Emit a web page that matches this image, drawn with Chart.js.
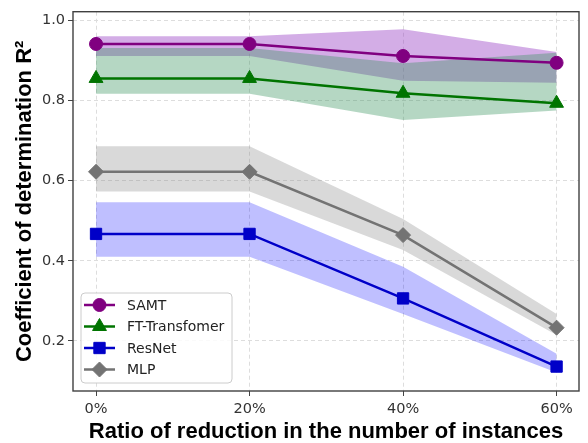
<!DOCTYPE html>
<html><head><meta charset="utf-8">
<script src="https://cdn.jsdelivr.net/npm/chart.js@4"></script>
<style>html,body{margin:0;padding:0;background:#fff}#wrap{width:588px;height:443px}</style>
</head><body><div id="wrap"><canvas id="c" width="588" height="443"></canvas></div>
<script>
const categories = ['0%', '20%', '40%', '60%'];
const yTickValues = [0.2, 0.4, 0.6, 0.8, 1.0];
const seriesNames = ['SAMT', 'FT-Transfomer', 'ResNet', 'MLP'];

const samt      = [0.941, 0.941, 0.911, 0.894];
const samtUpper = [0.960, 0.960, 0.978, 0.921];
const samtLower = [0.911, 0.911, 0.849, 0.844];

const ft        = [0.855, 0.855, 0.818, 0.793];
const ftUpper   = [0.931, 0.931, 0.893, 0.919];
const ftLower   = [0.817, 0.817, 0.751, 0.775];

const resnet      = [0.467, 0.467, 0.306, 0.136];
const resnetUpper = [0.546, 0.546, 0.385, 0.168];
const resnetLower = [0.410, 0.410, 0.267, 0.121];

const mlp      = [0.622, 0.622, 0.464, 0.233];
const mlpUpper = [0.686, 0.686, 0.504, 0.267];
const mlpLower = [0.573, 0.573, 0.427, 0.215];

const styles = [
  {color: '#800080', band: 'rgba(150,60,195,0.42)', point: 'circle', radius: 6.5, bandOrder: 7},
  {color: '#007400', band: 'rgba(50,145,90,0.36)', point: 'triangle', radius: 8, bandOrder: 6},
  {color: '#0000c8', band: 'rgba(0,0,255,0.25)', point: 'rect', radius: 8, bandOrder: 5},
  {color: '#737373', band: 'rgba(128,128,128,0.30)', point: 'rectRot', radius: 7.5, bandOrder: 5}
];
const mains = [samt, ft, resnet, mlp];
const uppers = [samtUpper, ftUpper, resnetUpper, mlpUpper];
const lowers = [samtLower, ftLower, resnetLower, mlpLower];

const toXY = arr => arr.map((v, i) => ({x: i, y: v}));

const datasets = [];
mains.forEach((arr, k) => {
  const s = styles[k];
  datasets.push({
    label: seriesNames[k], data: toXY(arr), borderColor: s.color, backgroundColor: s.color,
    borderWidth: 2.5, pointStyle: s.point, pointRadius: s.radius, pointBorderWidth: 1,
    pointBorderColor: s.color, pointBackgroundColor: s.color, fill: false, order: 0, tension: 0
  });
});
mains.forEach((arr, k) => {
  const s = styles[k];
  datasets.push({
    label: seriesNames[k] + ' upper', data: toXY(uppers[k]), borderWidth: 0, borderColor: 'rgba(0,0,0,0)',
    pointRadius: 0, fill: false, order: s.bandOrder, isBand: true
  });
  datasets.push({
    label: seriesNames[k] + ' lower', data: toXY(lowers[k]), borderWidth: 0, borderColor: 'rgba(0,0,0,0)',
    pointRadius: 0, fill: '-1', backgroundColor: s.band, order: s.bandOrder, isBand: true
  });
});

const framePlugin = {
  id: 'frame',
  afterDraw(chart) {
    const a = chart.chartArea, ctx = chart.ctx;
    ctx.save();
    ctx.strokeStyle = '#404040';
    ctx.lineWidth = 1.4;
    ctx.strokeRect(a.left, a.top, a.right - a.left, a.bottom - a.top);
    ctx.restore();
  }
};

const legendPlugin = {
  id: 'insideLegend',
  afterDatasetsDraw(chart) {
    const ctx = chart.ctx, a = chart.chartArea;
    const x0 = a.left + 8, w = 151, h = 90;
    const y0 = a.bottom - 8 - h;
    ctx.save();
    ctx.beginPath();
    if (ctx.roundRect) ctx.roundRect(x0, y0, w, h, 4); else ctx.rect(x0, y0, w, h);
    ctx.fillStyle = 'rgba(255,255,255,0.85)';
    ctx.fill();
    ctx.strokeStyle = '#cccccc';
    ctx.lineWidth = 1;
    ctx.stroke();
    const main = chart.data.datasets.filter(d => !d.isBand);
    main.forEach((d, i) => {
      const y = y0 + 12 + i * 21.5;
      ctx.strokeStyle = d.borderColor;
      ctx.lineWidth = 2.5;
      ctx.beginPath();
      ctx.moveTo(x0 + 3, y);
      ctx.lineTo(x0 + 34, y);
      ctx.stroke();
      ctx.fillStyle = d.pointBackgroundColor;
      ctx.strokeStyle = d.pointBorderColor;
      ctx.lineWidth = 1;
      Chart.helpers.drawPoint(ctx, {pointStyle: d.pointStyle, radius: d.pointRadius, rotation: 0, borderWidth: 1}, x0 + 18.5, y);
      ctx.fillStyle = '#222';
      ctx.font = '14px "DejaVu Sans"';
      ctx.textBaseline = 'middle';
      ctx.textAlign = 'left';
      ctx.fillText(d.label, x0 + 46, y + 1);
    });
    ctx.restore();
  }
};

new Chart(document.getElementById('c'), {
  type: 'line',
  data: {datasets},
  options: {
    responsive: false,
    animation: false,
    layout: {padding: {top: 7, right: 3, left: 0, bottom: 0}},
    plugins: {legend: {display: false}, tooltip: {enabled: false}},
    scales: {
      x: {
        type: 'linear', min: -0.15, max: 3.146,
        afterBuildTicks: s => { s.ticks = categories.map((c, i) => ({value: i})); },
        afterFit: s => { s.height = 52; },
        ticks: {callback: v => categories[v], font: {family: 'DejaVu Sans', size: 14.5}, color: '#333', padding: 5, maxRotation: 0},
        grid: {color: '#dddddd', lineWidth: 1, tickLength: 5, tickColor: '#444', tickWidth: 1},
        border: {display: false, dash: [4, 3]},
        title: {display: true, text: 'Ratio of reduction in the number of instances',
          font: {family: 'Liberation Sans', size: 22, weight: 'bold', lineHeight: 1}, color: '#000', padding: 0}
      },
      y: {
        type: 'linear', min: 0.075, max: 1.0215,
        afterBuildTicks: s => { s.ticks = yTickValues.map(v => ({value: v})); },
        afterFit: s => { s.width = 73; },
        ticks: {callback: v => Number(v).toFixed(1), font: {family: 'DejaVu Sans', size: 14.5}, color: '#333', padding: 3},
        grid: {color: '#dddddd', lineWidth: 1, tickLength: 5, tickColor: '#444', tickWidth: 1},
        border: {display: false, dash: [4, 3]},
        title: {display: true, text: 'Coefficient of determination R²',
          font: {family: 'Liberation Sans', size: 22, weight: 'bold', lineHeight: 1.2}, color: '#000', padding: {top: 12, bottom: 0}}
      }
    }
  },
  plugins: [framePlugin, legendPlugin]
});
</script>
</body></html>
